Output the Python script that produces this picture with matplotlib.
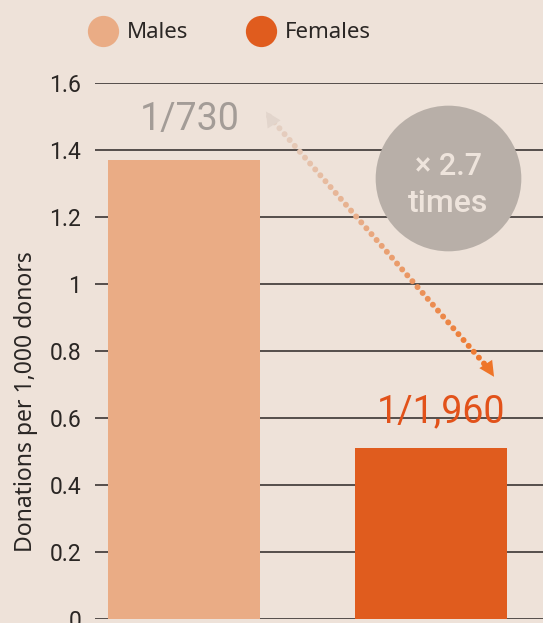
import numpy as np
import matplotlib
matplotlib.use("Agg")
import matplotlib.pyplot as plt
from matplotlib.lines import Line2D

# data
groups = ['Males', 'Females']
rates = [1000 / 730, 1000 / 1960]   # donations per 1,000 donors
labels = ['1/730', '1/1,960']
ratio_text = '× 2.7'
yticks = [0, 0.2, 0.4, 0.6, 0.8, 1, 1.2, 1.4, 1.6]

bg = '#EEE2D9'
col_m = '#EAAC85'
col_f = '#E05C1E'

fig = plt.figure(figsize=(5.43, 6.23), dpi=100, facecolor=bg)
ax = fig.add_axes([95 / 543, 4 / 623, 448 / 543, 536 / 623])
ax.set_facecolor(bg)

x = np.arange(len(groups))
ax.bar(x, rates, width=0.615, color=[col_m, col_f], zorder=3)

ax.set_ylim(0, 1.6)
ax.set_xlim(-0.36, 1.453)
ax.set_yticks(yticks)
ax.set_yticklabels([('%g' % t) for t in yticks], fontfamily='Roboto',
                   fontsize=16.5, color='#2a2624')
ax.tick_params(axis='y', length=0, pad=10)
ax.set_xticks([])
for s in ax.spines.values():
    s.set_visible(False)
ax.grid(axis='y', color='#3a3533', linewidth=1.2, zorder=1)
ax.set_ylabel('Donations per 1,000 donors', fontfamily='Noto Sans',
              fontsize=16.5, color='#2a2624')
ax.yaxis.set_label_coords(-0.128, 0.405)

# value labels
ax.text(0.024, 1.49, labels[0], ha='center', va='center', fontfamily='Roboto',
        fontsize=27, color='#A39C97', zorder=5)
ax.text(1.04, 0.618, labels[1], ha='center', va='center', fontfamily='Roboto',
        fontsize=27, color='#E2521A', zorder=5)

# ratio bubble
ax.scatter([1.069], [1.316], s=11000, color='#B8AFA8', zorder=4, linewidths=0)
ax.text(1.069, 1.35, ratio_text, ha='center', va='center', fontfamily='Roboto',
        fontsize=22, fontweight='medium', color='#EEE4DC', zorder=5)
ax.text(1.069, 1.24, 'times', ha='center', va='center', fontfamily='Roboto',
        fontsize=23, fontweight='medium', color='#EEE4DC', zorder=5)

# dotted gradient arrow between the two values
x0, y0 = 0.345, 1.50
x1, y1 = 1.235, 0.745
n = 44
t = np.linspace(0, 1, n)
c0 = np.array(matplotlib.colors.to_rgb('#E4D3C8'))
c1 = np.array(matplotlib.colors.to_rgb('#EE7428'))
cols = [tuple(c0 + (c1 - c0) * v) for v in t]
ax.scatter(x0 + (x1 - x0) * t, y0 + (y1 - y0) * t, s=18, c=cols,
           linewidths=0, zorder=6)
ax.annotate('', xy=(0.326, 1.522), xytext=(0.36, 1.482),
            arrowprops=dict(arrowstyle='-|>,head_length=1.1,head_width=0.55',
                            color='#E2D5CC', lw=0), zorder=6)
ax.annotate('', xy=(1.261, 0.716), xytext=(1.225, 0.757),
            arrowprops=dict(arrowstyle='-|>,head_length=1.1,head_width=0.55',
                            color='#EE7428', lw=0), zorder=6)

# legend
handles = [Line2D([], [], marker='o', ls='', markersize=22.5, color=col_m, mec='none'),
           Line2D([], [], marker='o', ls='', markersize=22.5, color=col_f, mec='none')]
fig.legend(handles, groups, loc='center left', bbox_to_anchor=(66 / 543, 1 - 33 / 623),
           ncol=2, frameon=False, prop={'family': 'Noto Sans', 'size': 16},
           handletextpad=0.35, columnspacing=2.5, handlelength=1.5,
           labelcolor='#2a2624')

fig.savefig('out.png', dpi=100, facecolor=bg)
